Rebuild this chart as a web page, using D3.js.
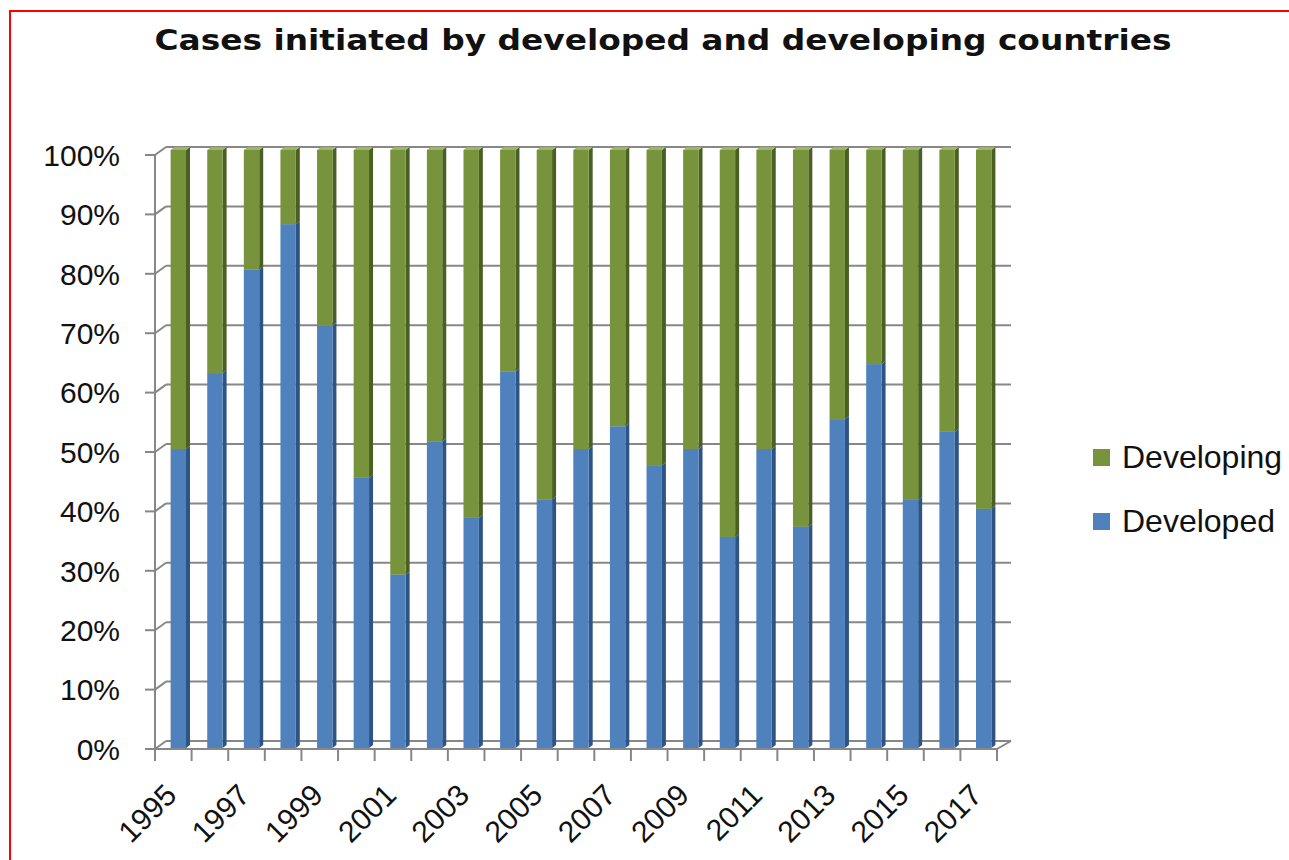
<!DOCTYPE html>
<html>
<head>
<meta charset="utf-8">
<script src="https://cdn.jsdelivr.net/npm/d3@7"></script>
<style>
  html, body { margin: 0; padding: 0; background: #fff; }
  svg { display: block; }
</style>
</head>
<body>
<svg id="chart" width="1289" height="860"></svg>
<script>
// ---- data ----
const years = ["1995","1996","1997","1998","1999","2000","2001","2002","2003","2004","2005","2006",
               "2007","2008","2009","2010","2011","2012","2013","2014","2015","2016","2017"];
const developed = [50, 62.7, 80, 87.6, 70.6, 45.2, 29, 51.3, 38.5, 63, 41.6, 50,
                   53.8, 47.3, 50, 35.3, 50, 37, 55, 64.2, 41.5, 52.9, 40];
const developing = developed.map(d => 100 - d);
const seriesNames = ["Developed", "Developing"];
const yTicks = [0, 10, 20, 30, 40, 50, 60, 70, 80, 90, 100];
const yearLabels = ["1995","1997","1999","2001","2003","2005","2007","2009","2011","2013","2015","2017"];
const title = "Cases initiated by developed and developing countries";

// ---- styles ----
const colors = {
  Developed:  { front: "#4F81BD", side: "#2E5486", top: "#7FA3D1" },
  Developing: { front: "#77933C", side: "#4A5F22", top: "#9BB85E" }
};
const gridColor = "#878787";
const depth = { dx: 11, dy: -8 };      // wall offset
const barDepth = { dx: 4, dy: -3 };    // bar side offset

const svg = d3.select("#chart");

// red frame
svg.append("rect").attr("x", 10).attr("y", 11).attr("width", 1320).attr("height", 900)
  .attr("fill", "none").attr("stroke", "#ff0000").attr("stroke-width", 2);

// title
svg.append("text").attr("x", 663).attr("y", 50).attr("text-anchor", "middle")
  .attr("font-family", "DejaVu Sans, Verdana, sans-serif").attr("font-weight", "bold")
  .attr("font-size", 29).attr("textLength", 1017).attr("lengthAdjust", "spacingAndGlyphs")
  .attr("fill", "#111").text(title);

// scales
const x = d3.scaleBand().domain(years).range([155, 997]).paddingInner(0.58).paddingOuter(0.29);
const yFront = d3.scaleLinear().domain([0, 100]).range([749, 155]);
const yBar = d3.scaleLinear().domain([0, 100]).range([748, 150]);

const g = svg.append("g");

// back wall gridlines
const xLeft = x.range()[0], xRight = x.range()[1];
yTicks.forEach(t => {
  const yf = yFront(t);
  g.append("line").attr("x1", xLeft + depth.dx).attr("x2", xRight + 14)
    .attr("y1", yf + depth.dy).attr("y2", yf + depth.dy)
    .attr("stroke", gridColor).attr("stroke-width", 2);
  g.append("line").attr("x1", xLeft).attr("y1", yf)
    .attr("x2", xLeft + depth.dx).attr("y2", yf + depth.dy)
    .attr("stroke", gridColor).attr("stroke-width", 2);
  g.append("line").attr("x1", xLeft - 10).attr("x2", xLeft).attr("y1", yf).attr("y2", yf)
    .attr("stroke", gridColor).attr("stroke-width", 2);
});
g.append("line").attr("x1", xLeft).attr("x2", xLeft).attr("y1", yFront(100)).attr("y2", yFront(0))
  .attr("stroke", gridColor).attr("stroke-width", 2);
g.append("line").attr("x1", xLeft).attr("x2", xRight).attr("y1", yFront(0)).attr("y2", yFront(0))
  .attr("stroke", gridColor).attr("stroke-width", 2);
g.append("line").attr("x1", xRight).attr("y1", yFront(0)).attr("x2", xRight + 14).attr("y2", yFront(0) + depth.dy)
  .attr("stroke", gridColor).attr("stroke-width", 2);
d3.range(years.length + 1).forEach(i => {
  const xt = xLeft + i * x.step();
  g.append("line").attr("x1", xt).attr("x2", xt).attr("y1", yFront(0)).attr("y2", yFront(0) + 12)
    .attr("stroke", gridColor).attr("stroke-width", 2);
});

// stacked bars
const table = years.map((yr, i) => ({ year: yr, Developed: developed[i], Developing: developing[i] }));
const stack = d3.stack().keys(seriesNames)(table);
const barShift = 5;
stack.forEach(layer => {
  const c = colors[layer.key];
  const lg = g.append("g");
  layer.forEach(d => {
    const x0 = x(d.data.year) + barShift, x1 = x0 + x.bandwidth();
    const yT = yBar(d[1]), yB = yBar(d[0]);
    lg.append("path").attr("d", `M${x1},${yB} L${x1 + barDepth.dx},${yB + barDepth.dy} L${x1 + barDepth.dx},${yT + barDepth.dy} L${x1},${yT} Z`)
      .attr("fill", c.side);
    lg.append("path").attr("d", `M${x0},${yT} L${x0 + barDepth.dx},${yT + barDepth.dy} L${x1 + barDepth.dx},${yT + barDepth.dy} L${x1},${yT} Z`)
      .attr("fill", c.top);
    lg.append("rect").attr("x", x0).attr("y", yT).attr("width", x.bandwidth()).attr("height", yB - yT)
      .attr("fill", c.front);
  });
});

// y labels
const fontLabel = "Liberation Sans, Arial, sans-serif";
yTicks.forEach(t => {
  svg.append("text").attr("x", 120).attr("y", yFront(t)).attr("dy", "0.36em")
    .attr("text-anchor", "end").attr("font-family", fontLabel).attr("font-size", 30)
    .attr("fill", "#111").text(t + "%");
});

// x labels
yearLabels.forEach(yr => {
  const cx = x(yr) + barShift + x.bandwidth() / 2;
  svg.append("text").attr("transform", `translate(${cx},${797}) rotate(-45)`)
    .attr("text-anchor", "end").attr("font-family", fontLabel).attr("font-size", 30)
    .attr("fill", "#111").text(yr);
});

// legend
const legendItems = [{ name: "Developing", y: 468 }, { name: "Developed", y: 532 }];
legendItems.forEach(it => {
  svg.append("rect").attr("x", 1093).attr("y", it.y - 19).attr("width", 17).attr("height", 17)
    .attr("fill", colors[it.name].front);
  svg.append("text").attr("x", 1122).attr("y", it.y).attr("font-family", fontLabel)
    .attr("font-size", 32).attr("fill", "#111").text(it.name);
});
</script>
</body>
</html>
